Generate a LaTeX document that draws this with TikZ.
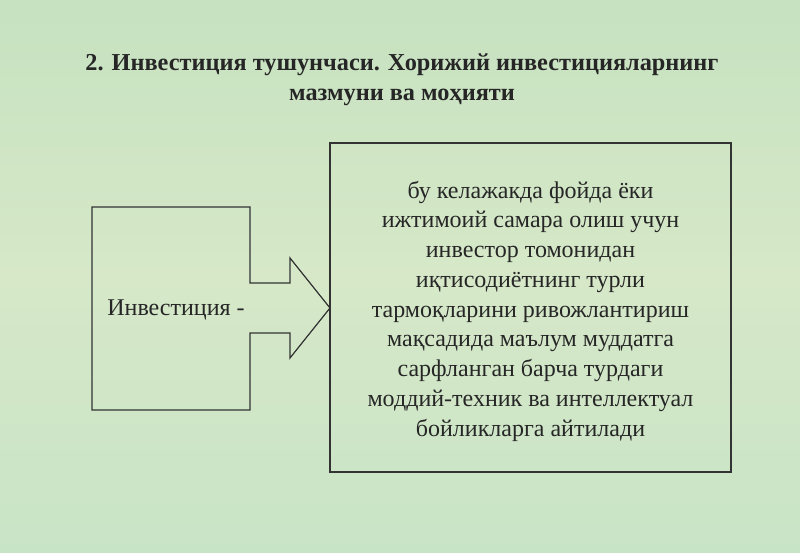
\documentclass[tikz,border=0pt]{standalone}
\usepackage{fontspec}
\setmainfont{Liberation Serif}
\begin{document}
\begin{tikzpicture}[x=1pt,y=-1pt,
  line/.style={draw=black!80,line width=1.2pt},
  txt/.style={font=\fontsize{24}{29.75}\selectfont,text=black!85,align=center}]
\fill[top color={rgb,255:red,198;green,226;blue,192},bottom color={rgb,255:red,200;green,228;blue,198},middle color={rgb,255:red,214;green,232;blue,200}] (0,0) rectangle (800,553);
\useasboundingbox (0,0) rectangle (800,553);
\node[font=\bfseries\fontsize{24.3}{30}\selectfont,align=center,text=black!85] (title) at (402,80) {2. Инвестиция тушунчаси. Хорижий инвестицияларнинг\\мазмуни ва моҳияти};
\draw[line] (92,207) -- (250,207) -- (250,283) -- (290,283) -- (290,258) -- (330,308) -- (290,358) -- (290,333) -- (250,333) -- (250,410) -- (92,410) -- cycle;
\node[txt] (inv) at (176,310) {Инвестиция -};
\node[line,minimum width=401pt,minimum height=329pt,inner sep=0pt] (box) at (530.5,307.5) {};
\node[txt] (def) at (530.5,311) {бу келажакда фойда ёки\\ижтимоий самара олиш учун\\инвестор томонидан\\иқтисодиётнинг турли\\тармоқларини ривожлантириш\\мақсадида маълум муддатга\\сарфланган барча турдаги\\моддий-техник ва интеллектуал\\бойликларга айтилади};
\end{tikzpicture}
\end{document}
